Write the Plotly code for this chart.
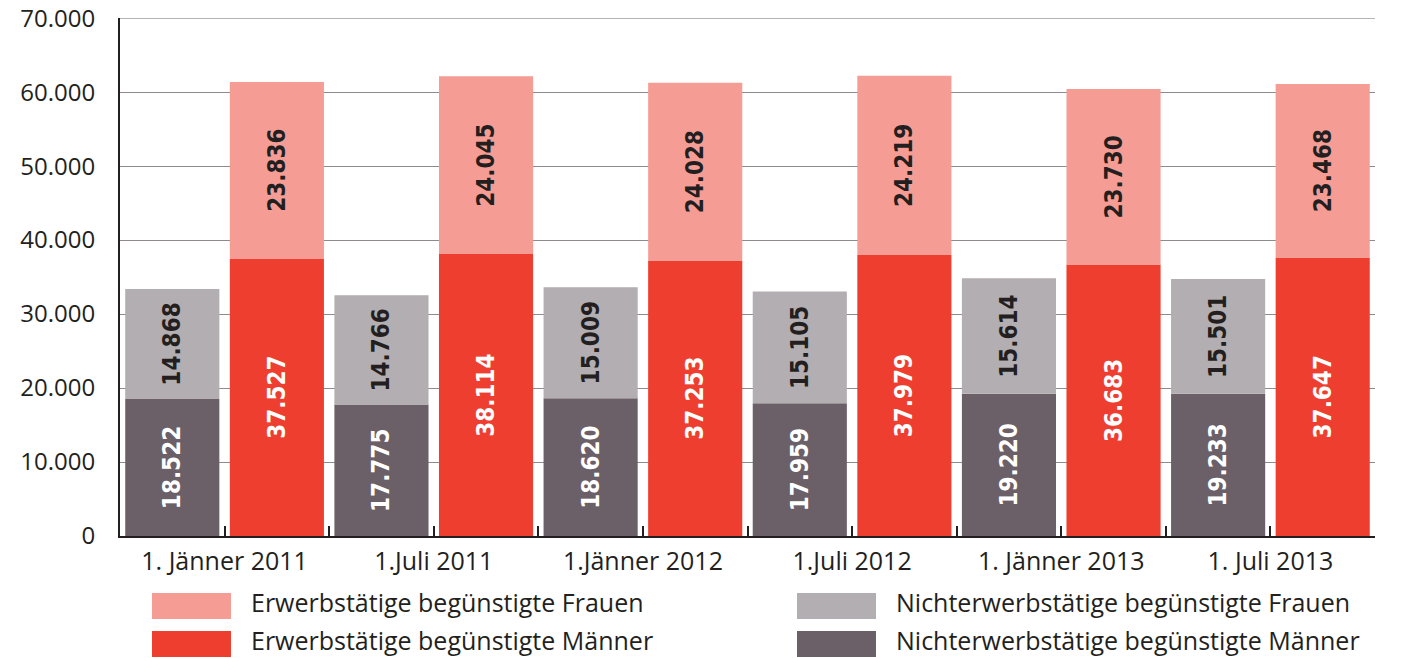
import plotly.graph_objects as go

dates = ["1. Jänner 2011", "1.Juli 2011", "1.Jänner 2012", "1.Juli 2012", "1. Jänner 2013", "1. Juli 2013"]
nicht_maenner = [18522, 17775, 18620, 17959, 19220, 19233]
nicht_frauen = [14868, 14766, 15009, 15105, 15614, 15501]
erw_maenner = [37527, 38114, 37253, 37979, 36683, 37647]
erw_frauen = [23836, 24045, 24028, 24219, 23730, 23468]

y_tickvals = [0, 10000, 20000, 30000, 40000, 50000, 60000, 70000]
y_ticktext = ["0", "10.000", "20.000", "30.000", "40.000", "50.000", "60.000", "70.000"]

names = {
    "ef": "Erwerbstätige begünstigte Frauen",
    "em": "Erwerbstätige begünstigte Männer",
    "nf": "Nichterwerbstätige begünstigte Frauen",
    "nm": "Nichterwerbstätige begünstigte Männer",
}
colors = {"ef": "#f59d94", "em": "#ee3e2f", "nf": "#b3aeb1", "nm": "#6b6068"}
TXT = "#231f20"
GRID = "#8f8b8d"

def fmt(v):
    return f"{v:,}".replace(",", ".")

x = list(range(len(dates)))
label_font_family = "DejaVu Sans Condensed, Liberation Sans Narrow, Roboto, sans-serif"

fig = go.Figure()

def add(key, vals, og, base=None, tcolor="white"):
    fig.add_trace(go.Bar(
        x=x, y=vals, base=base, offsetgroup=og, name=names[key],
        marker=dict(color=colors[key], line=dict(width=0)),
        text=[fmt(v) for v in vals], textposition="inside", textangle=-90,
        insidetextanchor="middle", constraintext="none",
        insidetextfont=dict(color=tcolor, size=24, family=label_font_family, weight="bold"),
        hoverinfo="skip", showlegend=False,
    ))

add("nm", nicht_maenner, "n", tcolor="white")
add("nf", nicht_frauen, "n", base=nicht_maenner, tcolor=TXT)
add("em", erw_maenner, "e", tcolor="white")
add("ef", erw_frauen, "e", base=erw_maenner, tcolor=TXT)

W, H = 1411, 658
ml, mr, mt, mb = 120, 36, 18, 122
pw, ph = W - ml - mr, H - mt - mb

def px(xp):
    return (xp - ml) / pw

def py(yp):
    return (H - mb - yp) / ph

FONT = "Open Sans, sans-serif"

# custom legend (large swatches as in the reference)
legend_items = [
    ("ef", 152, 593), ("em", 152, 631),
    ("nf", 797, 593), ("nm", 797, 631),
]
shapes = []
annotations = []
for key, x0, y0 in legend_items:
    shapes.append(dict(type="rect", xref="paper", yref="paper",
                       x0=px(x0), x1=px(x0 + 79), y0=py(y0), y1=py(y0 + 26),
                       fillcolor=colors[key], line=dict(width=0)))
    annotations.append(dict(xref="paper", yref="paper", x=px(x0 + 97), y=py(y0 + 9),
                            text=names[key], showarrow=False, xanchor="left", yanchor="middle",
                            font=dict(family=FONT, size=25, color=TXT)))

# top gridline at the last tick (plotly skips the grid line at the range edge)
shapes.append(dict(type="line", xref="paper", yref="y", x0=0, x1=1,
                   y0=y_tickvals[-1], y1=y_tickvals[-1], line=dict(color=GRID, width=1), layer="below"))

fig.update_layout(
    width=W, height=H,
    margin=dict(l=ml, r=mr, t=mt, b=mb, pad=0),
    paper_bgcolor="white", plot_bgcolor="white",
    barmode="group", bargap=0, bargroupgap=0.1,
    showlegend=False,
    shapes=shapes, annotations=annotations,
    xaxis=dict(
        type="linear", range=[-0.5, 5.5], automargin=False,
        tickvals=x, ticktext=dates, tickfont=dict(family=FONT, size=25, color=TXT),
        ticks="inside", ticklen=10, tickwidth=2, tickcolor=TXT,
        minor=dict(dtick=0.5, tick0=-0.5, ticks="inside", ticklen=10, tickwidth=2, tickcolor=TXT, showgrid=False),
        showline=True, linecolor=TXT, linewidth=2,
        showgrid=False, zeroline=False, ticklabelstandoff=2,
    ),
    yaxis=dict(
        range=[0, 70020], automargin=False, ticklabeloverflow="allow",
        tickvals=y_tickvals, ticktext=y_ticktext, tickfont=dict(family=FONT, size=24, color=TXT),
        ticks="", showline=True, linecolor=TXT, linewidth=2,
        showgrid=True, gridcolor=GRID, gridwidth=1, zeroline=False,
        ticklabelstandoff=18,
    ),
)

fig.write_html("out.html", config={"displayModeBar": False},
               post_script="document.body.style.margin='0';document.body.style.overflow='hidden';")
